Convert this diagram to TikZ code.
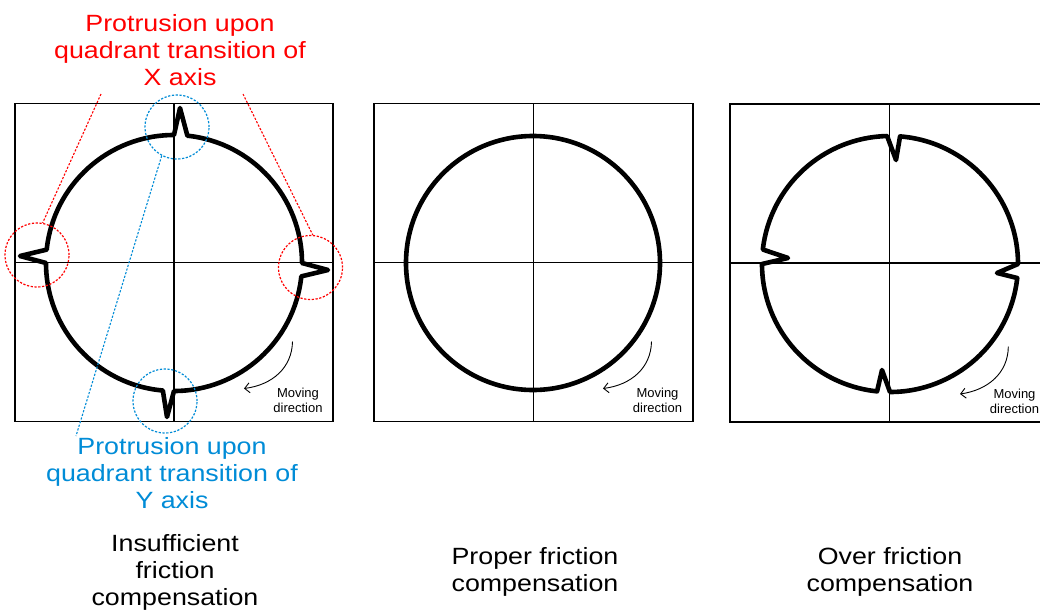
\documentclass[tikz,border=0pt]{standalone}
\usepackage{fontspec}
\setmainfont{Liberation Sans}
\newfontfamily\lab[FakeStretch=1.14]{Liberation Sans}
\usetikzlibrary{arrows.meta,calc}
\definecolor{protred}{RGB}{255,0,0}
\definecolor{protblue}{RGB}{0,140,215}
\begin{document}
\begin{tikzpicture}[x=1pt,y=-1pt,
  frame/.style={draw, line width=1.1pt, inner sep=0pt, outer sep=0pt},
  axis/.style={line width=1.1pt},
  curve/.style={line width=4.6pt, line join=round},
  hl/.style={circle, draw, dash pattern=on 2.2pt off 1.6pt, line width=1.2pt, minimum size=64pt, inner sep=0pt},
  leader/.style={dash pattern=on 2.2pt off 1.6pt, line width=1.1pt},
  bigtext/.style={font=\lab\fontsize{23.5}{27}\selectfont, align=center, inner sep=0pt, anchor=north},
  smalltext/.style={font=\fontsize{13}{15}\selectfont, align=center, inner sep=0pt, anchor=north},
  movearrow/.style={line width=0.9pt, -{Straight Barb[length=5pt,width=10pt]}}
]
\path[use as bounding box, fill=white] (0,0) rectangle (1040,613);
\clip (0,0) rectangle (1040,613);

% ---------- left panel ----------
\coordinate (cA) at (174,263);
\node[frame, minimum width=318pt, minimum height=318pt] (boxA) at (174,262.5) {};
\draw[axis] (boxA.north) -- (boxA.south);
\draw[axis] (boxA.west) -- (boxA.east);
\draw[curve] ($(cA)+(-84:128)$) arc[start angle=-84, end angle=0, radius=128]
  -- ($(cA)+(154,7)$) -- ($(cA)+(6:128)$) arc[start angle=6, end angle=90, radius=128]
  -- ($(cA)+(-7,154)$) -- ($(cA)+(95:128)$) arc[start angle=95, end angle=180, radius=128]
  -- ($(cA)+(-154,-7)$) -- ($(cA)+(186:128)$) arc[start angle=186, end angle=270, radius=128]
  -- ($(cA)+(6,-155)$) -- cycle;
\draw[movearrow] (292.5,341.5) .. controls (292,368) and (272,385) .. (244,388.5);
\node[smalltext] (mvA) at (298,388) {Moving\\direction};

\node[hl, draw=protred] (redL) at (37,255) {};
\node[hl, draw=protred] (redR) at (310.5,267.5) {};
\node[hl, draw=protblue] (blueT) at (177,127) {};
\node[hl, draw=protblue] (blueB) at (165,401) {};

\node[bigtext, text=protred] (xlabel) at (180,14) {Protrusion upon\\quadrant transition of\\X axis};
\node[bigtext, text=protblue] (ylabel) at (172,437) {Protrusion upon\\quadrant transition of\\Y axis};
\coordinate (xlL) at (101,94);
\coordinate (xlR) at (243,94);
\coordinate (ylB) at (76,436);
\draw[leader, protred] (xlL) -- (redL.80);
\draw[leader, protred] (xlR) -- (redR.86);
\draw[leader, protblue] (blueT.242) -- (ylB);

\node[bigtext] (capA) at (175,534.5) {Insufficient\\friction\\compensation};

% ---------- middle panel ----------
\coordinate (cB) at (533,263);
\node[frame, minimum width=319pt, minimum height=318pt] (boxB) at (533.5,262.5) {};
\draw[axis] (boxB.north) -- (boxB.south);
\draw[axis] (boxB.west) -- (boxB.east);
\draw[curve] (cB) circle[radius=127];
\draw[movearrow] ($(cB)+(118.5,78.5)$) .. controls ($(cB)+(118,105)$) and ($(cB)+(98,122)$) .. ($(cB)+(70,125.5)$);
\node[smalltext] (mvB) at (657.5,388) {Moving\\direction};
\node[bigtext] (capB) at (535,547) {Proper friction\\compensation};

% ---------- right panel ----------
\coordinate (cC) at (890,264);
\node[frame, minimum width=319pt, minimum height=318pt] (boxC) at (889.5,263) {};
\draw[axis] (boxC.north) -- (boxC.south);
\draw[axis] (boxC.west) -- (boxC.east);
\draw[curve] ($(cC)+(274.5:128)$) arc[start angle=274.5, end angle=360, radius=128]
  -- ($(cC)+(107,9)$) -- ($(cC)+(6.3:128)$) arc[start angle=6.3, end angle=90, radius=128]
  -- ($(cC)+(-8,106)$) -- ($(cC)+(95.8:128)$) arc[start angle=95.8, end angle=180, radius=128]
  -- ($(cC)+(-102,-6)$) -- ($(cC)+(186.5:128)$) arc[start angle=186.5, end angle=268.7, radius=128]
  -- ($(cC)+(6,-104)$) -- cycle;
\draw[movearrow] (1008.3,346.7) .. controls (1008,373) and (988,390) .. (960,394);
\node[smalltext] (mvC) at (1014.5,389) {Moving\\direction};
\node[bigtext] (capC) at (890,547) {Over friction\\compensation};
\end{tikzpicture}
\end{document}
